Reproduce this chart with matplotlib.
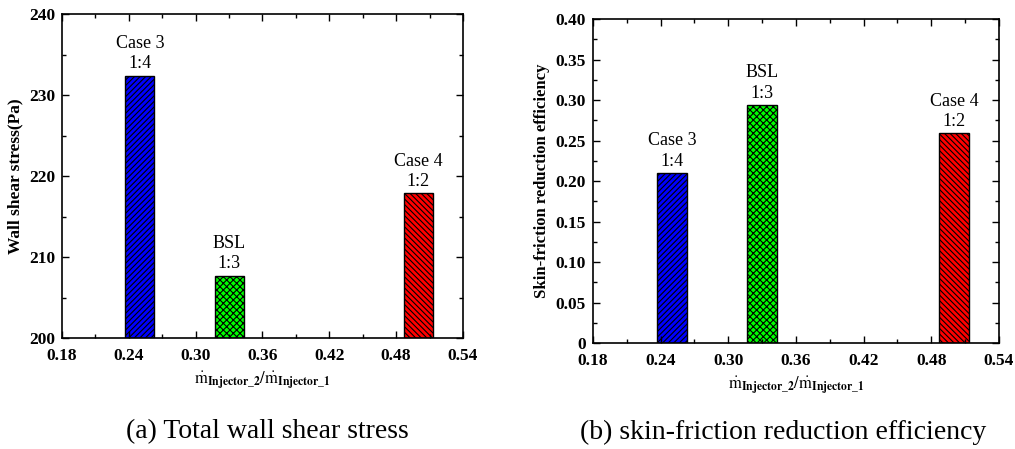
import matplotlib
matplotlib.use("Agg")
import matplotlib.pyplot as plt
from matplotlib.ticker import MultipleLocator, FuncFormatter

# ------------------------------------------
# data
# ------------------------------------------
ratio = [0.25, 0.33, 0.50]          # mdot_inj2 / mdot_inj1
case_names = ["Case 3", "BSL", "Case 4"]
case_ratio = ["1:4", "1:3", "1:2"]
wall_shear = [232.4, 207.7, 217.9]   # Pa
efficiency = [0.210, 0.294, 0.259]

colors = ["#0000ff", "#00ff00", "#ff0000"]
hatches = ["//////", "xxxxx", "\\\\\\\\\\\\"]

plt.rcParams["font.family"] = ["Liberation Serif", "DejaVu Serif"]
plt.rcParams["mathtext.fontset"] = "stix"
plt.rcParams["hatch.linewidth"] = 0.8

xlabel = r"$\dot{\mathrm{m}}_{\mathbf{Injector\_2}}/\dot{\mathrm{m}}_{\mathbf{Injector\_1}}$"

fig = plt.figure(figsize=(10.15, 4.49), dpi=100)
ax1 = fig.add_axes([0.0611, 0.2472, 0.395, 0.7216])
ax2 = fig.add_axes([0.5842, 0.2360, 0.400, 0.7216])


def style_axes(ax):
    ax.set_xlim(0.18, 0.54)
    ax.xaxis.set_major_locator(MultipleLocator(0.06))
    ax.xaxis.set_minor_locator(MultipleLocator(0.03))
    ax.xaxis.set_major_formatter(FuncFormatter(lambda v, p: f"{v:.2f}"))
    ax.tick_params(which="both", direction="in", top=True, right=True)
    ax.tick_params(which="major", length=5, width=1)
    ax.tick_params(which="minor", length=3, width=1)
    ax.tick_params(axis="both", which="major", labelsize=12.5)
    ax.tick_params(axis="x", which="major", pad=7)
    ax.tick_params(axis="y", which="major", pad=5)
    for lab in ax.get_xticklabels() + ax.get_yticklabels():
        lab.set_fontweight("bold")
    for s in ax.spines.values():
        s.set_linewidth(1.2)
    ax.set_xlabel(xlabel, fontsize=12, labelpad=4)


def draw_bars(ax, values, offset):
    for x, v, c, h, name, r in zip(ratio, values, colors, hatches, case_names, case_ratio):
        ax.bar(x, v - ax.get_ylim()[0], bottom=ax.get_ylim()[0], width=0.026,
               color=c, edgecolor="black", hatch=h, linewidth=1)
        ax.text(x, v + offset, name + "\n" + r, ha="center", va="bottom",
                fontsize=13, linespacing=1.25)


# (a) wall shear stress
ax1.set_ylim(200, 240)
ax1.yaxis.set_major_locator(MultipleLocator(10))
ax1.yaxis.set_minor_locator(MultipleLocator(5))
draw_bars(ax1, wall_shear, 0.4)
style_axes(ax1)
ax1.set_ylabel("Wall shear stress(Pa)", fontsize=12.5, fontweight="bold", labelpad=4)

# (b) skin-friction reduction efficiency
ax2.set_ylim(0, 0.40)
ax2.yaxis.set_major_locator(MultipleLocator(0.05))
ax2.yaxis.set_minor_locator(MultipleLocator(0.025))
ax2.yaxis.set_major_formatter(FuncFormatter(lambda v, p: "0" if abs(v) < 1e-9 else f"{v:.2f}"))
draw_bars(ax2, efficiency, 0.004)
style_axes(ax2)
ax2.set_ylabel("Skin-friction reduction efficiency", fontsize=12, fontweight="bold", labelpad=4)

fig.text(0.263, 0.038, "(a) Total wall shear stress", ha="center", va="center", fontsize=20)
fig.text(0.772, 0.038, "(b) skin-friction reduction efficiency", ha="center", va="center", fontsize=20)

fig.savefig("out.png", dpi=100)
